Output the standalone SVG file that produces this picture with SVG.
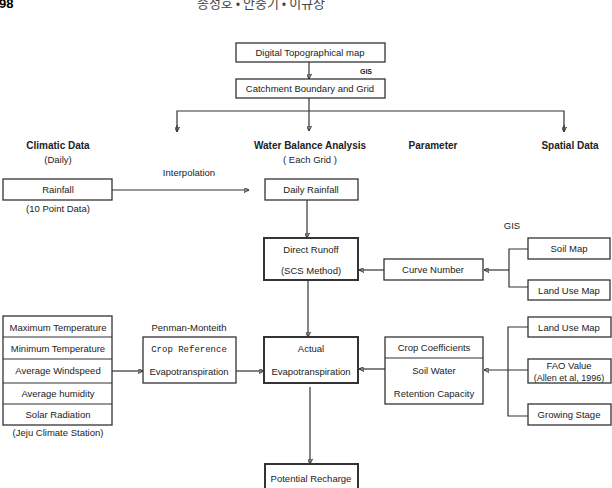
<svg xmlns="http://www.w3.org/2000/svg" width="612" height="488" viewBox="0 0 612 488">
<style>
text{font-family:"Liberation Sans",Arial,sans-serif;font-size:9.5px;fill:#222;text-anchor:middle}
.b{font-weight:bold;font-size:10px}
.m{font-family:"Liberation Mono","Courier New",monospace;font-size:9px}
.s{font-size:7px;font-weight:bold}
.n{font-size:9px}
.hd{font-family:"Noto Sans CJK KR",sans-serif;font-size:13px;fill:#444}
rect{fill:#fff;stroke:#333;stroke-width:1.3}
.t{stroke-width:2}
line,path{stroke:#333;stroke-width:1.2;fill:none}
</style>
<defs>
<marker id="a" viewBox="0 0 6 6" refX="6" refY="3" markerWidth="5" markerHeight="5" orient="auto" markerUnits="userSpaceOnUse">
<path d="M0,0L6,3L0,6z" fill="#222" stroke="none"/>
</marker>
</defs>
<text class="hd" x="-1" y="8" style="text-anchor:start;font-weight:bold;fill:#000;font-family:'Liberation Sans',sans-serif">98</text>
<text class="hd" x="261" y="8">송성호 • 안중기 • 이규상</text>

<g id="connectors">
<line x1="309" y1="62" x2="309" y2="79" marker-end="url(#a)"/>
<line x1="309" y1="98" x2="309" y2="131" marker-end="url(#a)"/>
<path d="M177,131V111H564V131"/>
<line x1="177" y1="125" x2="177" y2="132" marker-end="url(#a)"/>
<line x1="564" y1="125" x2="564" y2="132" marker-end="url(#a)"/>
<line x1="112" y1="190" x2="249" y2="190" marker-end="url(#a)"/>
<line x1="307" y1="200" x2="307" y2="238" marker-end="url(#a)"/>
<line x1="384" y1="270" x2="359" y2="270" marker-end="url(#a)"/>
<line x1="509" y1="270" x2="484" y2="270" marker-end="url(#a)"/>
<path d="M528,249H509V287H528"/>
<line x1="308" y1="280" x2="308" y2="337" marker-end="url(#a)"/>
<line x1="112" y1="371" x2="143" y2="371" marker-end="url(#a)"/>
<line x1="236" y1="371" x2="264" y2="371" marker-end="url(#a)"/>
<line x1="385" y1="369" x2="359" y2="369" marker-end="url(#a)"/>
<line x1="528" y1="370" x2="484" y2="370" marker-end="url(#a)"/>
<path d="M528,327H508V416H528"/>
<line x1="310" y1="387" x2="310" y2="464" marker-end="url(#a)"/>
</g>

<g id="digital"><rect x="236" y="43" width="149" height="19"/><text x="310" y="56">Digital Topographical  map</text></g>
<g id="gis1"><text class="s" x="366" y="74">GIS</text></g>
<g id="catchment"><rect x="236" y="79" width="149" height="19"/><text x="310" y="92">Catchment Boundary and Grid</text></g>

<g id="climatic"><text class="b" x="58" y="149">Climatic Data</text><text x="58" y="163">(Daily)</text></g>
<g id="wba"><text class="b" x="310" y="149">Water Balance Analysis</text><text x="310" y="163">( Each Grid )</text></g>
<g id="parameter"><text class="b" x="433" y="149">Parameter</text></g>
<g id="spatial"><text class="b" x="570" y="149">Spatial Data</text></g>
<g id="interp"><text x="189" y="176">Interpolation</text></g>

<g id="rainfall"><rect x="3" y="179" width="109" height="21"/><text x="58" y="193">Rainfall</text><text x="58" y="212">(10 Point Data)</text></g>
<g id="dailyrain"><rect x="265" y="179" width="93" height="21"/><text x="311" y="193">Daily Rainfall</text></g>

<g id="gis2"><text x="512" y="229">GIS</text></g>
<g id="runoff"><rect class="t" x="264" y="238" width="94" height="42"/><text x="311" y="253">Direct Runoff</text><text x="311" y="274">(SCS Method)</text></g>
<g id="curve"><rect x="384" y="259" width="99" height="21"/><text x="433" y="273">Curve Number</text></g>
<g id="soilmap"><rect x="528" y="238" width="82" height="21"/><text x="569" y="252">Soil Map</text></g>
<g id="landuse1"><rect x="528" y="280" width="82" height="20"/><text x="569" y="294">Land Use Map</text></g>

<g id="climate-table">
<rect x="3" y="316" width="109" height="109"/>
<path d="M3,337H112M3,359H112M3,383H112M3,404H112"/>
<text x="58" y="331">Maximum Temperature</text>
<text x="58" y="352">Minimum Temperature</text>
<text x="58" y="374">Average Windspeed</text>
<text x="58" y="397">Average humidity</text>
<text x="58" y="418">Solar Radiation</text>
<text x="58" y="436">(Jeju Climate Station)</text>
</g>
<g id="cropref"><text x="189" y="331">Penman-Monteith</text><rect x="143" y="337" width="93" height="46"/><text class="m" x="189" y="352">Crop Reference</text><text x="189" y="375">Evapotranspiration</text></g>
<g id="actual"><rect class="t" x="264" y="337" width="94" height="46"/><text x="311" y="352">Actual</text><text x="311" y="375">Evapotranspiration</text></g>
<g id="cropcoef"><rect x="385" y="337" width="98" height="67"/><path d="M385,358H483"/><text x="434" y="351">Crop Coefficients</text><text x="434" y="374">Soil Water</text><text x="434" y="397">Retention Capacity</text></g>
<g id="landuse2"><rect x="528" y="317" width="83" height="20"/><text x="569" y="331">Land Use Map</text></g>
<g id="fao"><rect x="528" y="359" width="83" height="24"/><text x="569" y="369">FAO Value</text><text class="n" x="569" y="381">(Allen et al, 1996)</text></g>
<g id="growing"><rect x="528" y="404" width="83" height="21"/><text x="569" y="418">Growing Stage</text></g>
<g id="recharge"><rect class="t" x="265" y="464" width="93" height="30"/><text x="311" y="482">Potential Recharge</text></g>
</svg>
